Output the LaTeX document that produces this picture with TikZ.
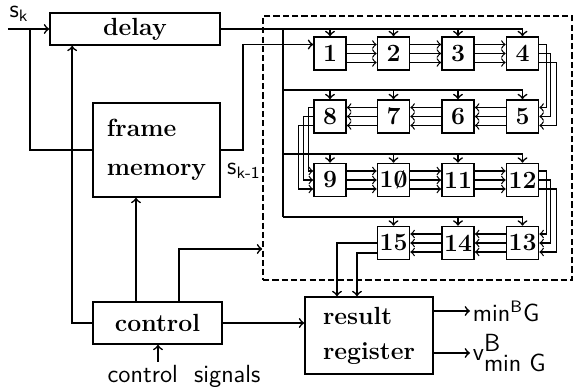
\documentclass[tikz,border=0pt]{standalone}
\usepackage{tikz}
\newcommand{\pxu}{0.017cm}
\newcommand{\slzero}{\ooalign{0\cr\hidewidth\raisebox{0.25ex}{\scalebox{0.7}[0.75]{/}}\hidewidth\cr}}

\begin{document}
\begin{tikzpicture}[x=\pxu,y=-\pxu,thick,
		blk/.style={draw,inner sep=0pt,font=\large\bfseries},
		pe/.style={draw,inner sep=0pt,minimum width=32*\pxu,minimum height=33*\pxu,font=\large\bfseries},
		lnk/.style={semithick,->},
		lbl/.style={font=\large\sffamily,inner sep=1pt}]
			\useasboundingbox (0,0) rectangle (581,387);
			\node[blk,minimum width=170*\pxu,minimum height=32*\pxu] (delay) at (135,29) {delay};
			\node[blk,minimum width=127*\pxu,minimum height=94*\pxu,align=left] (frame) at (156.5,150) {frame\\[5pt]memory};
			\node[blk,minimum width=129*\pxu,minimum height=42*\pxu] (control) at (157.5,323) {control};
			\node[blk,minimum width=128*\pxu,minimum height=77*\pxu,align=left] (result) at (369,335.5) {result\\[3pt]register};
			\node[draw,dash pattern=on 3pt off 1.5pt,minimum width=309*\pxu,minimum height=264*\pxu] (array) at (417.5,148) {};
			\node[pe] (p1) at (330,53.5) {1};
			\node[pe] (p2) at (393.5,53.5) {2};
			\node[pe] (p3) at (458,53.5) {3};
			\node[pe] (p4) at (522.5,53.5) {4};
			\node[pe] (p5) at (522.5,116.5) {5};
			\node[pe] (p6) at (458,116.5) {6};
			\node[pe] (p7) at (393.5,116.5) {7};
			\node[pe] (p8) at (330,116.5) {8};
			\node[pe] (p9) at (330,180) {9};
			\node[pe] (p10) at (393.5,180) {1\slzero};
			\node[pe] (p11) at (458,180) {11};
			\node[pe] (p12) at (522.5,180) {12};
			\node[pe] (p13) at (522.5,243) {13};
			\node[pe] (p14) at (458,243) {14};
			\node[pe] (p15) at (393.5,243) {15};
			\node[lbl] (sk) at (19,14) {s\textsubscript{k}};
			\node[lbl] (skm) at (244,171) {s\textsubscript{k-1}};
			\node[lbl] (sig) at (184,376) {control\ \ signals};
			\coordinate (skin) at (8,29);
			\coordinate (skbr) at (30,29);
			\coordinate (bus) at (283,29);
			\coordinate (bus1) at (283,90);
			\coordinate (bus2) at (283,154);
			\coordinate (bus3) at (283,217);
			\coordinate (minout) at (470,311);
			\coordinate (vout) at (470,353);
			\draw[->] (skin) -- (delay.west);
			\draw (skbr) |- (frame.west);
			\draw[->] (delay.east) -| (p4.north);
			\foreach \p in {p1,p2,p3} \draw[->] (\p.north |- delay.east) -- (\p.north);
			\draw (bus) -- (bus3);
			\draw[->] (bus1) -| (p5.north);
			\foreach \p in {p6,p7,p8} \draw[->] (\p.north |- bus1) -- (\p.north);
			\draw[->] (bus2) -| (p12.north);
			\foreach \p in {p9,p10,p11} \draw[->] (\p.north |- bus2) -- (\p.north);
			\draw[->] (bus3) -| (p13.north);
			\foreach \p in {p14,p15} \draw[->] (\p.north |- bus3) -- (\p.north);
			\draw[->] (frame.east) -- ++(22,0) |- ([yshift=9*\pxu]p1.west);
			\foreach \a/\b in {p1/p2,p2/p3,p3/p4,p9/p10,p10/p11,p11/p12}
				\foreach \d in {-9,0,9}
					\draw[lnk] ([yshift=\d*\pxu]\a.east) -- ([yshift=\d*\pxu]\b.west);
			\foreach \a/\b in {p5/p6,p6/p7,p7/p8,p13/p14,p14/p15}
				\foreach \d in {-9,0,9}
					\draw[lnk] ([yshift=\d*\pxu]\a.west) -- ([yshift=\d*\pxu]\b.east);
			\foreach \a/\b in {p4/p5,p12/p13}
				\foreach \d/\e in {9/7,0/11,-9/17}
					\draw[lnk] ([yshift=\d*\pxu]\a.east) -- ++(\e,0) |- ([yshift=\d*\pxu]\b.east);
			\foreach \d/\e in {9/5,0/10,-9/15}
				\draw[lnk] ([yshift=\d*\pxu]p8.west) -- ++(-\e,0) |- ([yshift=\d*\pxu]p9.west);
			\draw[->] (control.west) -| ([xshift=23*\pxu]delay.south west);
			\draw[->] (control.north -| 136,0) -- (frame.south -| 136,0);
			\draw[->] (control.north -| 179,0) |- (array.west |- 0,249);
			\draw[->] (control.east) -- (result.west |- control.east);
			\draw[->] (sig.north -| 158,0) -- (control.south -| 158,0);
			\draw[->] (p15.west) -| (result.north -| 337,0);
			\draw[->] ([yshift=-10*\pxu]p15.west) -| (result.north -| 357,0);
			\draw[->] (result.east |- minout) -- (minout);
			\draw[->] (result.east |- vout) -- (vout);
			\node[lbl,anchor=west] (minlbl) at (minout) {min\textsuperscript{B}G};
			\node[lbl,anchor=west] (vlbl) at (vout) {v$^{\textsf{B}}_{\textsf{min G}}$};
		\end{tikzpicture}
\end{document}
